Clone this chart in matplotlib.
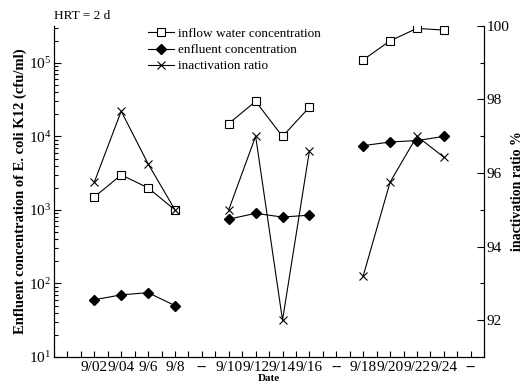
import numpy as np
import matplotlib
matplotlib.use("Agg")
import matplotlib.pyplot as plt
from matplotlib.ticker import LogLocator, NullFormatter, MultipleLocator

plt.rcParams['font.family'] = ['Liberation Serif', 'DejaVu Serif']
plt.rcParams['mathtext.fontset'] = 'stix'

# Date categories (-- marks gaps between runs)
dates = ["9/02", "9/04", "9/6", "9/8", "--",
         "9/10", "9/12", "9/14", "9/16", "--",
         "9/18", "9/20", "9/22", "9/24", "--"]

# three runs, four days each
run_dates = [["9/02", "9/04", "9/6", "9/8"],
             ["9/10", "9/12", "9/14", "9/16"],
             ["9/18", "9/20", "9/22", "9/24"]]
inflow = [[1500, 3000, 2000, 1000],
          [15000, 30000, 10000, 25000],
          [110000, 200000, 295000, 280000]]
enfluent = [[60, 70, 75, 50],
            [750, 900, 800, 850],
            [7500, 8400, 8800, 10000]]
ratio = [[95.75, 97.68, 96.25, 95.0],
         [95.0, 97.0, 92.0, 96.6],
         [93.2, 95.75, 97.0, 96.43]]

pos = {d: i + 1 for i, d in enumerate(dates) if d != "--"}

fig = plt.figure(figsize=(5.24, 3.91), dpi=100)
ax = fig.add_axes([0.103, 0.087, 0.821, 0.847])
ax2 = ax.twinx()

for k in range(3):
    x = [pos[d] for d in run_dates[k]]
    ax.plot(x, inflow[k], color="black", lw=0.8, marker="s", ms=5.5,
            mfc="white", mec="black", mew=0.8,
            label="inflow water concentration" if k == 0 else None)
    ax.plot(x, enfluent[k], color="black", lw=0.8, marker="D", ms=5.5,
            mfc="black", mec="black",
            label="enfluent concentration" if k == 0 else None)
    ax2.plot(x, ratio[k], color="black", lw=0.8, marker="x", ms=5.5, mew=0.8,
             label="inactivation ratio" if k == 0 else None)

ax.set_yscale("log")
ax.set_ylim(10, 3.2e5)
ax.set_xlim(-0.5, 15.5)
ax.set_xticks(range(1, 16))
ax.set_xticklabels(dates)
ax.xaxis.set_minor_locator(MultipleLocator(0.5))
ax.yaxis.set_major_locator(LogLocator(base=10, numticks=10))
ax.yaxis.set_minor_locator(LogLocator(base=10, subs=np.arange(2, 10), numticks=10))
ax.yaxis.set_minor_formatter(NullFormatter())

ax2.set_ylim(91, 100)
ax2.set_yticks([92, 94, 96, 98, 100])
ax2.yaxis.set_minor_locator(MultipleLocator(1))

for a in (ax, ax2):
    a.spines['top'].set_visible(False)
    a.tick_params(which="both", direction="in", labelsize=11, width=0.8)
    a.tick_params(which="major", length=5, pad=2)
    a.tick_params(which="minor", length=3)
ax.tick_params(axis="x", which="both", length=4, pad=3)

ax.set_ylabel("Enfluent concentration of E. coli K12 (cfu/ml)",
              fontsize=10.5, fontweight="bold", labelpad=1)
ax2.set_ylabel("inactivation ratio %", fontsize=10, fontweight="bold", labelpad=1)
ax.set_xlabel("Date", fontsize=8, fontweight="bold", labelpad=0)

fig.text(0.103, 0.96, "HRT = 2 d", fontsize=9.5, ha="left", va="center")

h1, l1 = ax.get_legend_handles_labels()
h2, l2 = ax2.get_legend_handles_labels()
ax.legend(h1 + h2, l1 + l2, loc="upper left", bbox_to_anchor=(0.19, 1.03),
          frameon=False, fontsize=9.5, handlelength=2.0, handletextpad=0.3,
          labelspacing=0.3)

fig.savefig("out.png", dpi=100)
